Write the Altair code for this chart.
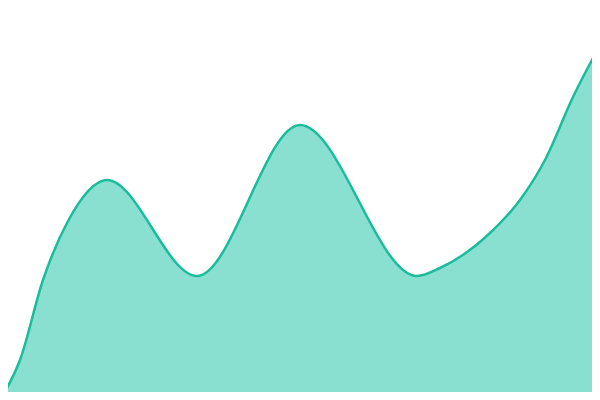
import altair as alt
import pandas as pd

# x positions and values (value = height above bottom, in a 0-400 range)
xs = [0, 20, 43, 67, 107, 197, 300, 417, 440, 490, 520, 545, 573, 600]
ys = [0, 40, 120, 177, 220, 124, 275, 124, 132, 167, 200, 240, 303, 355]

df = pd.DataFrame({"x": xs, "y": ys})

chart = alt.Chart(df).mark_area(
    interpolate="monotone",
    color="#8ae0d0",
    opacity=1,
    line={"color": "#1abc9c", "strokeWidth": 2.5},
    clip=True,
).encode(
    x=alt.X("x:Q", scale=alt.Scale(domain=[0, 600], nice=False, zero=False), axis=None),
    y=alt.Y("y:Q", scale=alt.Scale(domain=[0, 400], nice=False), axis=None),
).properties(
    width=600,
    height=400,
    padding={"left": -8, "top": -8, "right": -8, "bottom": -8},
    autosize=alt.AutoSizeParams(type="none"),
).configure_view(stroke=None)

chart.save("out.html", embed_options={"renderer": "svg", "actions": False})
